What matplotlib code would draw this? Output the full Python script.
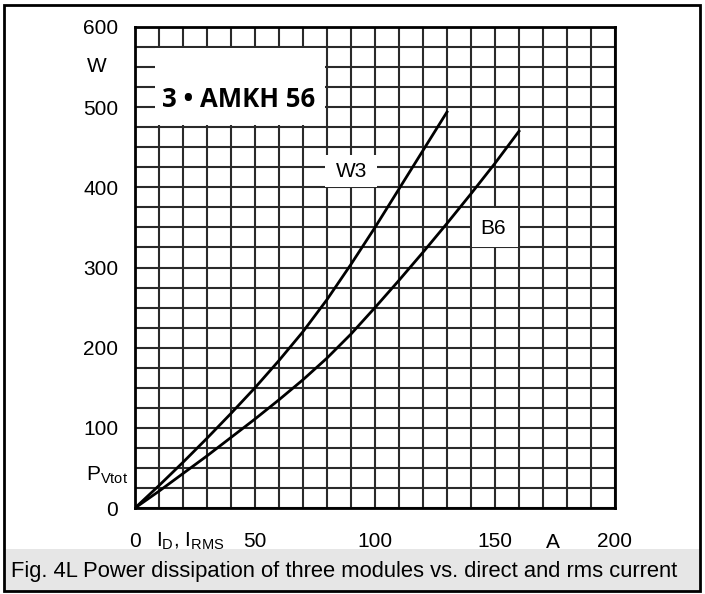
import matplotlib
matplotlib.use("Agg")
import matplotlib.pyplot as plt
from matplotlib.patches import Rectangle
from matplotlib.ticker import MultipleLocator

plt.rcParams['font.family'] = ['Liberation Sans', 'DejaVu Sans']
plt.rcParams['mathtext.fontset'] = 'custom'
plt.rcParams['mathtext.rm'] = 'Liberation Sans'
plt.rcParams['mathtext.it'] = 'Liberation Sans'

# Data
w3_current = [0, 10, 20, 30, 40, 50, 60, 70, 80, 90, 100, 110, 120, 130]
w3_power = [0, 28, 57, 87, 118, 150, 184, 220, 260, 304, 350, 398, 446, 494]
b6_current = [0, 10, 20, 30, 40, 50, 60, 70, 80, 90, 100, 110, 120, 130, 140, 150, 160]
b6_power = [0, 21, 43, 65, 88, 111, 135, 160, 187, 217, 250, 284, 319, 355, 392, 430, 470]
x_ticks = [0, 50, 100, 150, 200]
y_ticks = [0, 100, 200, 300, 400, 500, 600]
series_labels = ["W3", "B6"]
title_text = "3 \u2022 AMKH 56"
caption = "Fig. 4L Power dissipation of three modules vs. direct and rms current"

W, H = 705, 594
fig = plt.figure(figsize=(W / 100, H / 100), dpi=100)

# outer frame and caption band
fig.patches.append(Rectangle((4 / W, 1 - 591 / H), 696 / W, 42 / H,
                             transform=fig.transFigure, facecolor='#e6e6e6',
                             edgecolor='none', zorder=-1))
fig.patches.append(Rectangle((4 / W, 1 - 591 / H), 696 / W, 586 / H,
                             transform=fig.transFigure, facecolor='none',
                             edgecolor='black', linewidth=2, zorder=5))
fig.text(11 / W, 1 - 571 / H, caption, fontsize=15.8, ha='left', va='center')

ax = fig.add_axes([135 / W, 1 - 508 / H, 480 / W, 481 / H])
ax.set_zorder(1)
ax.set_xlim(0, 200)
ax.set_ylim(0, 600)
ax.set_xticks(x_ticks)
ax.set_yticks(y_ticks)
ax.xaxis.set_minor_locator(MultipleLocator(10))
ax.yaxis.set_minor_locator(MultipleLocator(25))
ax.grid(True, which='both', color='#2a2a2a', linewidth=1.5, zorder=1)
ax.set_axisbelow(True)
ax.tick_params(which='both', length=0)
ax.tick_params(axis='x', pad=17, labelsize=15)
ax.tick_params(axis='y', pad=12, labelsize=15)
for s in ax.spines.values():
    s.set_linewidth(2)
    s.set_zorder(4)

ax.plot(w3_current, w3_power, color='black', linewidth=2, zorder=3)
ax.plot(b6_current, b6_power, color='black', linewidth=2, zorder=3)

# white label boxes
box_kw = dict(facecolor='white', edgecolor='none', zorder=2)
ax.add_patch(Rectangle((8.3, 478), 70.8, 96, **box_kw))
ax.add_patch(Rectangle((79.3, 401), 21.7, 39, **box_kw))
ax.add_patch(Rectangle((140.6, 326), 18.8, 48.5, **box_kw))

ax.text(43, 510, title_text, fontsize=18.5, fontweight='bold',
        family=['Open Sans', 'DejaVu Sans'], ha='center', va='center', zorder=3)
ax.text(90.4, 420, series_labels[0], fontsize=15, ha='center', va='center', zorder=3)
ax.text(149.2, 349, series_labels[1], fontsize=15, ha='center', va='center', zorder=3)

# axis unit labels
fig.text(97 / W, 1 - 67 / H, "W", fontsize=15, ha='center', va='center')
fig.text(86 / W, 1 - 475 / H, r"P$_{\mathrm{Vtot}}$", fontsize=15, ha='left', va='center')
fig.text(190 / W, 1 - 541 / H, r"I$_{\mathrm{D}}$, I$_{\mathrm{RMS}}$", fontsize=15,
         ha='center', va='center')
fig.text(553 / W, 1 - 543 / H, "A", fontsize=15, ha='center', va='center')

fig.savefig("out.png", dpi=100)
